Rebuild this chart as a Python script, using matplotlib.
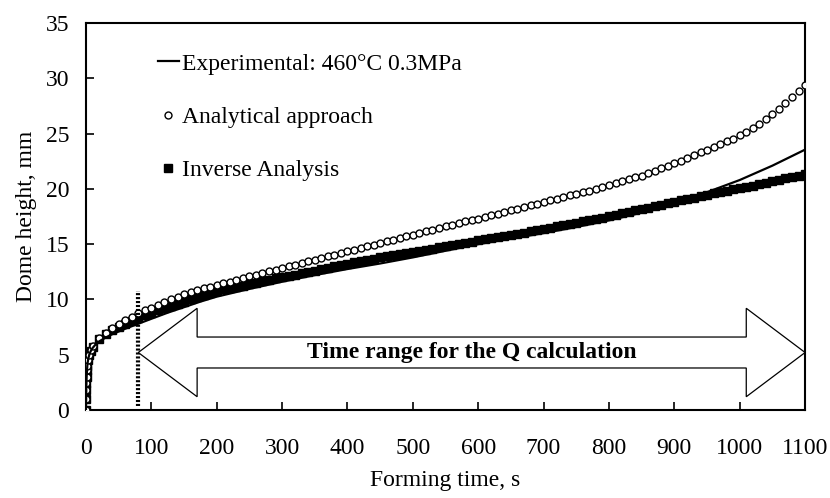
import numpy as np
import matplotlib
matplotlib.use("Agg")
import matplotlib.pyplot as plt
from matplotlib.patches import Polygon

plt.rcParams['font.family'] = ['Liberation Serif', 'DejaVu Serif']
plt.rcParams['font.size'] = 17

# experimental curve
t_exp = [0, 0.5, 1, 2, 3, 5, 7, 10, 15, 20, 30, 40, 60, 80, 100, 125, 150, 175,
         200, 250, 300, 350, 400, 450, 500, 550, 600, 650, 700, 750, 800, 850,
         900, 950, 1000, 1050, 1100]
h_exp = [0, 2.0, 3.0, 4.0, 4.5, 5.0, 5.3, 5.6, 5.95, 6.2, 6.55, 6.85, 7.35, 7.8, 8.25,
         8.8, 9.3, 9.8, 10.25, 10.95, 11.6, 12.2, 12.75, 13.25, 13.8, 14.4, 15.0,
         15.5, 16.0, 16.55, 17.15, 17.85, 18.7, 19.7, 20.8, 22.1, 23.55]

# model outputs, every 10 s after a few early steps
t_mod = [0, 0.2, 0.4, 0.6, 1, 1.5, 2, 3, 5, 7,
         10, 20, 30, 40, 50, 60, 70, 80, 90, 100,
         110, 120, 130, 140, 150, 160, 170, 180, 190, 200,
         210, 220, 230, 240, 250, 260, 270, 280, 290, 300,
         310, 320, 330, 340, 350, 360, 370, 380, 390, 400,
         410, 420, 430, 440, 450, 460, 470, 480, 490, 500,
         510, 520, 530, 540, 550, 560, 570, 580, 590, 600,
         610, 620, 630, 640, 650, 660, 670, 680, 690, 700,
         710, 720, 730, 740, 750, 760, 770, 780, 790, 800,
         810, 820, 830, 840, 850, 860, 870, 880, 890, 900,
         910, 920, 930, 940, 950, 960, 970, 980, 990, 1000,
         1010, 1020, 1030, 1040, 1050, 1060, 1070, 1080, 1090, 1100]

h_ana = [0, 1.0, 1.8, 2.4, 3.0, 3.6, 4.0, 4.5, 5.0, 5.4,
         5.8, 6.5, 7.0, 7.4, 7.8, 8.1, 8.45, 8.75, 9.0, 9.25,
         9.5, 9.75, 10.0, 10.25, 10.5, 10.7, 10.85, 11.0, 11.15, 11.3,
         11.45, 11.6, 11.75, 11.95, 12.1, 12.25, 12.4, 12.55, 12.7, 12.85,
         13.0, 13.15, 13.3, 13.45, 13.6, 13.75, 13.9, 14.05, 14.2, 14.35,
         14.5, 14.65, 14.8, 14.95, 15.1, 15.25, 15.4, 15.55, 15.7, 15.85,
         16.0, 16.15, 16.3, 16.45, 16.6, 16.75, 16.9, 17.05, 17.2, 17.3,
         17.45, 17.6, 17.75, 17.9, 18.05, 18.2, 18.35, 18.5, 18.65, 18.8,
         18.95, 19.1, 19.25, 19.4, 19.55, 19.7, 19.85, 20.0, 20.2, 20.35,
         20.5, 20.7, 20.85, 21.05, 21.2, 21.4, 21.65, 21.85, 22.1, 22.3,
         22.55, 22.8, 23.05, 23.3, 23.55, 23.8, 24.05, 24.3, 24.55, 24.85,
         25.15, 25.5, 25.9, 26.3, 26.75, 27.25, 27.75, 28.3, 28.85, 29.4]

h_inv = [0, 1.0, 1.8, 2.4, 3.0, 3.6, 4.0, 4.5, 5.0, 5.35,
         5.7, 6.4, 6.85, 7.2, 7.5, 7.8, 8.05, 8.3, 8.55, 8.8,
         9.0, 9.2, 9.4, 9.6, 9.8, 10.0, 10.2, 10.4, 10.6, 10.75,
         10.9, 11.0, 11.15, 11.25, 11.4, 11.5, 11.65, 11.75, 11.9, 12.0,
         12.15, 12.25, 12.4, 12.5, 12.6, 12.75, 12.85, 13.0, 13.1, 13.2,
         13.35, 13.45, 13.55, 13.7, 13.8, 13.9, 14.0, 14.1, 14.2, 14.3,
         14.4, 14.5, 14.6, 14.7, 14.8, 14.9, 15.0, 15.1, 15.2, 15.35,
         15.45, 15.55, 15.65, 15.75, 15.85, 15.95, 16.05, 16.15, 16.3, 16.4,
         16.5, 16.6, 16.7, 16.8, 16.95, 17.05, 17.15, 17.3, 17.4, 17.55,
         17.65, 17.8, 17.9, 18.05, 18.2, 18.3, 18.45, 18.55, 18.7, 18.85,
         18.95, 19.1, 19.2, 19.35, 19.45, 19.6, 19.7, 19.85, 19.95, 20.1,
         20.2, 20.3, 20.45, 20.55, 20.7, 20.8, 20.95, 21.05, 21.2, 21.3]

# Q calculation window
t_start = 80
t_end = 1100
marker_top = 10.8
arrow_y = 5.2
head_len = 90
head_half = 4.0
shaft_half = 1.4

fig = plt.figure(figsize=(8.3, 4.98), dpi=100)
ax = fig.add_axes([0.1036, 0.1767, 0.8664, 0.7771])

ax.plot(t_exp, h_exp, '-', color='black', lw=1.6, label='Experimental: 460°C 0.3MPa', zorder=4)
ax.plot(t_mod, h_ana, 'o', mfc='white', mec='black', ms=5.0, mew=1.0,
        label='Analytical approach', zorder=3)
ax.plot(t_mod, h_inv, 's', color='black', ms=5.2, label='Inverse Analysis', zorder=2)

ax.plot([t_start, t_start], [0.4, marker_top], color='black', lw=3.0,
        linestyle=(0, (0.5, 0.45)), zorder=5)

# double block arrow
x0, x1 = t_start, t_end
verts = [(x0, arrow_y), (x0 + head_len, arrow_y + head_half), (x0 + head_len, arrow_y + shaft_half),
         (x1 - head_len, arrow_y + shaft_half), (x1 - head_len, arrow_y + head_half), (x1, arrow_y),
         (x1 - head_len, arrow_y - head_half), (x1 - head_len, arrow_y - shaft_half),
         (x0 + head_len, arrow_y - shaft_half), (x0 + head_len, arrow_y - head_half)]
arrow = Polygon(verts, closed=True, facecolor='white', edgecolor='black', lw=0.9,
                zorder=6, clip_on=False)
ax.add_patch(arrow)
ax.text(590, arrow_y, 'Time range for the Q calculation', ha='center', va='center',
        fontsize=17, fontweight='bold', zorder=7)

ax.set_xlim(0, 1100)
ax.set_ylim(0, 35)
ax.set_xticks(range(0, 1101, 100))
ax.set_yticks(range(0, 36, 5))
ax.tick_params(direction='in', length=6, width=1.2, top=False, right=False)
ax.tick_params(axis='x', pad=20)
ax.tick_params(axis='y', pad=12)
for s in ax.spines.values():
    s.set_linewidth(1.5)

ax.set_xlabel('Forming time, s', labelpad=8)
ax.set_ylabel('Dome height, mm', labelpad=6)

ax.legend(loc='upper left', bbox_to_anchor=(0.07, 0.977), frameon=False,
          handlelength=0.9, handletextpad=0.15, labelspacing=1.35, fontsize=17)

plt.savefig('out.png', dpi=100)
